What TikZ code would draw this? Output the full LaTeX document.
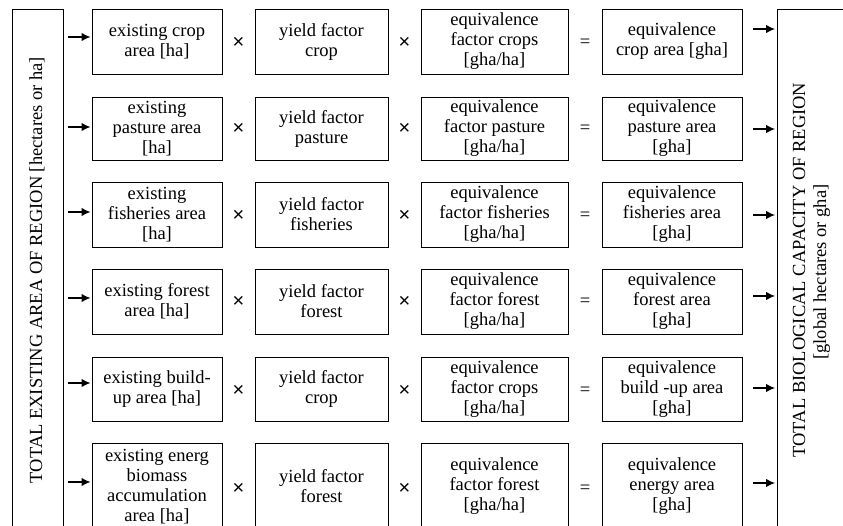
\documentclass[tikz,border=0pt]{standalone}
\usepackage{fontspec}
\setmainfont{Liberation Serif}
\newfontfamily\opfont{Liberation Sans}
\usetikzlibrary{arrows.meta}
\tikzset{
  txt/.style={font=\fontsize{18.5}{20}\selectfont},
  cell/.style={txt, draw, line width=0.9pt, inner sep=0pt, align=center},
  op/.style={font=\opfont\fontsize{20}{20}\selectfont, inner sep=0pt},
  eqop/.style={txt, inner sep=0pt},
  feed/.style={line width=1.3pt, -{Latex[length=9pt,width=8.5pt]}},
  frame/.style={draw, line width=0.9pt, inner sep=0pt},
  vlabel/.style={txt, rotate=90, anchor=base, inner sep=0pt},
  c1/.style={cell, minimum width=130pt},
  c2/.style={cell, minimum width=133pt},
  c3/.style={cell, minimum width=147pt},
  c4/.style={cell, minimum width=140pt},
}
\begin{document}
\begin{tikzpicture}[x=1pt,y=-1pt]
\clip (0,0) rectangle (843,525);

% side frames
\node[frame, minimum width=51pt, minimum height=540pt] (lbox) at (37.5,279) {};
\node[frame, minimum width=100pt, minimum height=540pt] (rbox) at (827,279) {};
\node[vlabel] (ltext) at (42,270) {TOTAL EXISTING AREA OF REGION [hectares or ha]};
\node[vlabel] (rtext1) at (805,270) {TOTAL BIOLOGICAL CAPACITY OF REGION};
\node[vlabel] (rtext2) at (826,272) {[global hectares or gha]};

% row 1
\node[c1, minimum height=65pt] (a1) at (157,41.5) {existing crop\\area {[}ha{]}};
\node[c2, minimum height=65pt] (b1) at (321.5,41.5) {yield factor\\crop};
\node[c3, minimum height=65pt] (c1) at (494.5,41.5) {equivalence\\factor crops\\{[}gha/ha{]}};
\node[c4, minimum height=65pt] (d1) at (672,41.5) {equivalence\\crop area {[}gha{]}};

% row 2
\node[c1, minimum height=63pt] (a2) at (157,128.5) {existing\\pasture area\\{[}ha{]}};
\node[c2, minimum height=63pt] (b2) at (321.5,128.5) {yield factor\\pasture};
\node[c3, minimum height=63pt] (c2) at (494.5,128.5) {equivalence\\factor pasture\\{[}gha/ha{]}};
\node[c4, minimum height=63pt] (d2) at (672,128.5) {equivalence\\pasture area\\{[}gha{]}};

% row 3
\node[c1, minimum height=65pt] (a3) at (157,214.5) {existing\\fisheries area\\{[}ha{]}};
\node[c2, minimum height=65pt] (b3) at (321.5,214.5) {yield factor\\fisheries};
\node[c3, minimum height=65pt] (c3) at (494.5,214.5) {equivalence\\factor fisheries\\{[}gha/ha{]}};
\node[c4, minimum height=65pt] (d3) at (672,214.5) {equivalence\\fisheries area\\{[}gha{]}};

% row 4
\node[c1, minimum height=65pt] (a4) at (157,301.5) {existing forest\\area {[}ha{]}};
\node[c2, minimum height=65pt] (b4) at (321.5,301.5) {yield factor\\forest};
\node[c3, minimum height=65pt] (c4) at (494.5,301.5) {equivalence\\factor forest\\{[}gha/ha{]}};
\node[c4, minimum height=65pt] (d4) at (672,301.5) {equivalence\\forest area\\{[}gha{]}};

% row 5
\node[c1, minimum height=64pt] (a5) at (157,389) {existing build-\\up area {[}ha{]}};
\node[c2, minimum height=64pt] (b5) at (321.5,389) {yield factor\\crop};
\node[c3, minimum height=64pt] (c5) at (494.5,389) {equivalence\\factor crops\\{[}gha/ha{]}};
\node[c4, minimum height=64pt] (d5) at (672,389) {equivalence\\build -up area\\{[}gha{]}};

% row 6
\node[c1, minimum height=87pt] (a6) at (157,486.5) {existing energ\\biomass\\accumulation\\area {[}ha{]}};
\node[c2, minimum height=87pt] (b6) at (321.5,486.5) {yield factor\\forest};
\node[c3, minimum height=87pt] (c6) at (494.5,486.5) {equivalence\\factor forest\\{[}gha/ha{]}};
\node[c4, minimum height=87pt] (d6) at (672,486.5) {equivalence\\energy area\\{[}gha{]}};

% operators between the boxes
\foreach \r/\y in {1/43,2/129,3/216,4/302,5/391,6/489} {
  \node[op] (mA\r) at (238.5,\y) {×};
  \node[op] (mB\r) at (404.5,\y) {×};
  \node[eqop] (eq\r) at (585,\y) {=};
}

% arrows from the total area into each row
\foreach \r/\y in {1/37,2/127,3/212,4/298,5/383,6/482} {
  \coordinate (s\r) at (68,\y);
  \draw[feed, shorten >=1pt] (s\r) -- (s\r -| a\r.west);
}
% arrows from each row into the total capacity
\foreach \r/\y in {1/29,2/129,3/215,4/296,5/388,6/483} {
  \coordinate (t\r) at (753,\y);
  \draw[feed, shorten >=1.5pt] (t\r) -- (t\r -| rbox.west);
}
\end{tikzpicture}
\end{document}
